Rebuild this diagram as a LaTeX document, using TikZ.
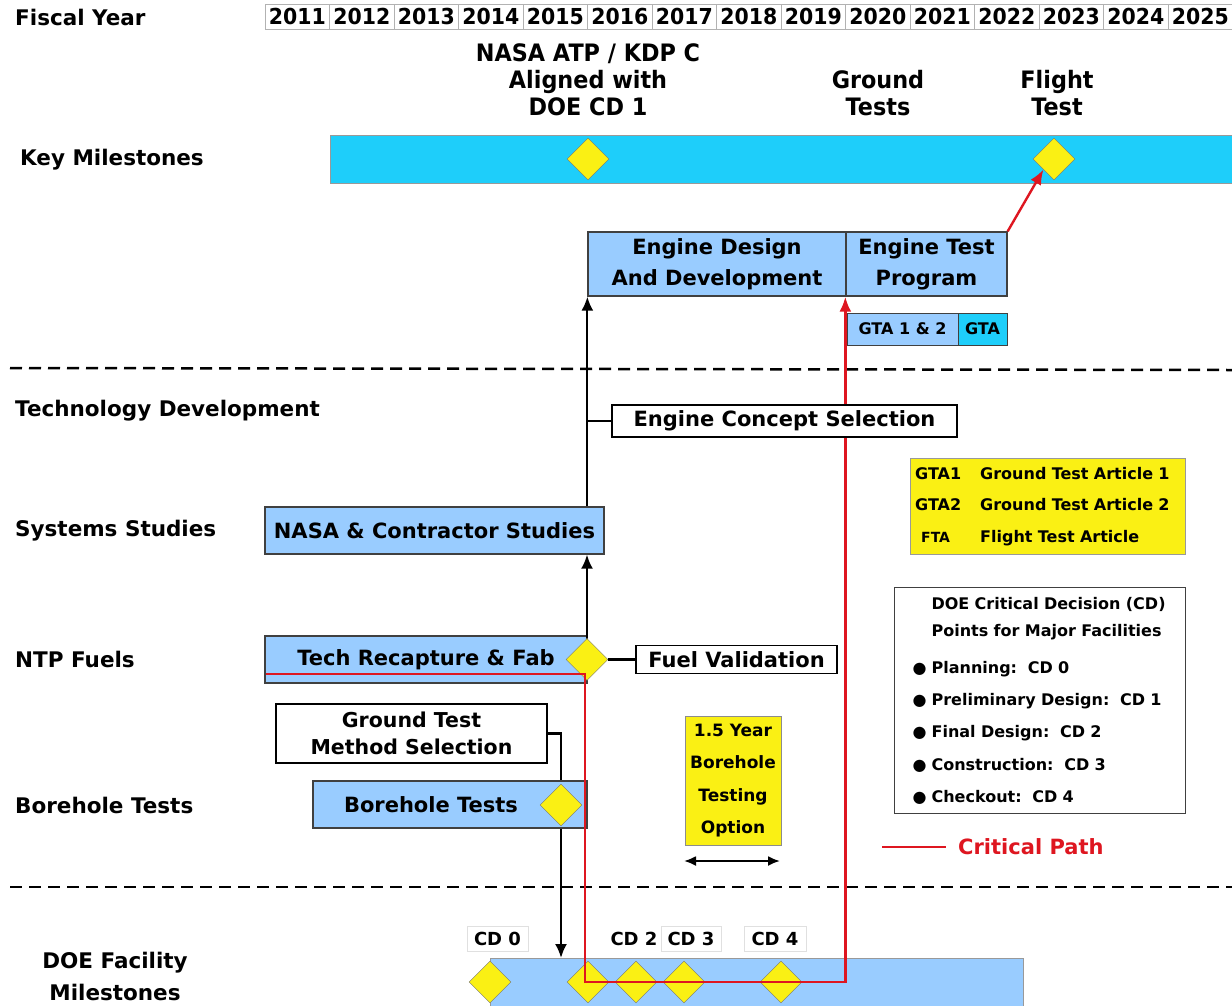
\documentclass[tikz,border=0pt]{standalone}
\usepackage{fontspec}
\setmainfont{DejaVu Sans}
\newfontfamily\narrowfont{DejaVu Sans}[FakeStretch=0.93]
\usetikzlibrary{calc, shapes, arrows, arrows.meta}
\definecolor{boxblue}{RGB}{153,204,255}
\definecolor{barcyan}{RGB}{30,206,250}
\definecolor{msyellow}{RGB}{250,240,20}
\definecolor{pathred}{RGB}{222,22,32}

\begin{document}
\begin{tikzpicture}[x=1pt,y=-1pt]
\tikzstyle{rowtext}=[anchor=west, inner sep=0pt, font=\bfseries\fontsize{21.5}{32}\selectfont]
\tikzstyle{yearcell}=[draw=black!30, minimum width=64.5pt, minimum height=25pt, inner sep=0pt, font=\narrowfont\bfseries\fontsize{22}{22}\selectfont]
\tikzstyle{mstext}=[align=center, inner sep=0pt, font=\narrowfont\bfseries\fontsize{24}{27}\selectfont]
\tikzstyle{bluebox}=[draw=black!75, fill=boxblue, line width=1.3pt, inner sep=0pt, align=center, font=\bfseries\fontsize{21}{31}\selectfont]
\tikzstyle{whitebox}=[draw=black, fill=white, line width=1.6pt, inner sep=0pt, align=center, font=\bfseries\fontsize{21}{27}\selectfont]
\tikzstyle{ms}=[diamond, draw=black!55, fill=msyellow, minimum width=42pt, minimum height=42pt, inner sep=0pt]
\tikzstyle{cdtag}=[draw=black!12, fill=white, minimum height=25pt, inner sep=0pt, font=\bfseries\fontsize{18}{18}\selectfont]
\tikzstyle{conn}=[line width=2.2pt]
\tikzstyle{arr}=[line width=2.2pt, -{Latex[length=14pt,width=12pt]}]
\tikzstyle{redpath}=[pathred, line width=2.8pt, -{Latex[length=15pt,width=12pt]}]
\tikzstyle{sep}=[line width=2.5pt, dash pattern=on 12pt off 7pt]
\useasboundingbox (0,0) rectangle (1232,1005);

% row titles
\node[rowtext] (L_fy) at (15,17) {Fiscal Year};
\node[rowtext] (L_km) at (20,160) {Key Milestones};
\node[rowtext] (L_td) at (15,411) {Technology Development};
\node[rowtext] (L_ss) at (15,531) {Systems Studies};
\node[rowtext] (L_nf) at (15,659) {NTP Fuels};
\node[rowtext] (L_bt) at (15,805) {Borehole Tests};
\node[rowtext, anchor=center, align=center] (L_doe) at (115,976) {DOE Facility\\Milestones};

% years
\foreach \i in {0,...,14} {
  \pgfmathtruncatemacro{\yr}{2011+\i}
  \node[yearcell] (Y_\i) at (297.25+64.5*\i,16.5) {\yr};
}

% key milestones
\node[draw=black!40, fill=barcyan, minimum width=910pt, minimum height=48pt, anchor=north west] (M_bar) at (330,135) {};
\node[ms] (M_1) at (588,159) {};
\node[ms] (M_2) at (1054,159) {};
\node[mstext] (T_1) at (588,80) {NASA ATP / KDP C\\Aligned with\\DOE CD 1};
\node[mstext] (T_2) at (878,93.5) {Ground\\Tests};
\node[mstext] (T_3) at (1057,93.5) {Flight\\Test};

% separators
\coordinate (S_1a) at (10,368);
\coordinate (S_1b) at (1232,370);
\coordinate (S_2a) at (10,887);
\coordinate (S_2b) at (1232,887);
\draw[sep] (S_1a) -- (S_1b);
\draw[sep] (S_2a) -- (S_2b);

% engine
\node[bluebox, minimum width=258pt, minimum height=64pt] (E_dev) at (717,264) {Engine Design\\And Development};
\node[bluebox, minimum width=161pt, minimum height=64pt] (E_test) at (926.5,264) {Engine Test\\Program};
\node[bluebox, line width=0.8pt, minimum width=111pt, minimum height=32pt, font=\bfseries\fontsize{16}{16}\selectfont] (G_12) at (902.5,329) {GTA 1 \& 2};
\node[bluebox, line width=0.8pt, fill=barcyan, minimum width=49pt, minimum height=32pt, font=\bfseries\fontsize{16}{16}\selectfont] (G_ta) at (982.5,329) {GTA};

% studies and fuels
\node[bluebox, minimum width=339pt, minimum height=47pt] (N_stu) at (434.5,530.5) {NASA \& Contractor Studies};
\node[bluebox, minimum width=322pt, minimum height=47pt] (T_fab) at (426,659.5) {Tech Recapture \& Fab};
\node[ms] (T_dia) at (587,659.5) {};
\node[whitebox, minimum width=201pt, minimum height=28pt] (F_val) at (736.5,659.5) {Fuel Validation};
\node[whitebox, minimum width=271pt, minimum height=59pt, font=\bfseries\fontsize{20.5}{27}\selectfont] (G_sel) at (411.5,733.5) {Ground Test\\Method Selection};
\node[bluebox, minimum width=274pt, minimum height=47pt] (B_tst) at (450,804.5) {Borehole Tests\hspace*{38pt}};
\node[ms] (B_dia) at (561,805) {};

% borehole option
\node[draw=black!45, fill=msyellow, minimum width=96pt, minimum height=129pt, inner sep=0pt, align=center, font=\bfseries\fontsize{17}{32.5}\selectfont] (Y_opt) at (733,780.5) {1.5 Year\\Borehole\\Testing\\Option};
\coordinate (A_l) at (684,861);
\coordinate (A_r) at (780,861);
\draw[line width=2pt, {Latex[length=12pt,width=10pt]}-{Latex[length=12pt,width=10pt]}] (A_l) -- (A_r);

% legends
\node[draw=black!40, fill=msyellow, anchor=north west, minimum width=275pt, minimum height=96pt, inner xsep=5pt, inner ysep=0pt, text width=265pt, align=left, font=\bfseries\fontsize{16}{31.5}\selectfont] (L_gta) at (910,458)
  {\makebox[65pt][l]{GTA1}Ground Test Article 1\\
   \makebox[65pt][l]{GTA2}Ground Test Article 2\\
   \makebox[65pt][l]{\hspace*{6pt}\fontsize{14}{14}\selectfont FTA}Flight Test Article};
\node[draw=black!75, line width=1.2pt, fill=white, anchor=north west, minimum width=291pt, minimum height=226pt, inner xsep=18pt, inner ysep=0pt, text width=255pt, align=left, font=\bfseries\fontsize{16}{32.3}\selectfont] (L_cd) at (894,587)
  {\hspace*{19pt}DOE Critical Decision (CD)\\[-5.3pt]
   \hspace*{19pt}Points for Major Facilities\\[4.7pt]
   \makebox[19pt][l]{●}Planning:~~CD 0\\
   \makebox[19pt][l]{●}Preliminary Design:~~CD 1\\
   \makebox[19pt][l]{●}Final Design:~~CD 2\\
   \makebox[19pt][l]{●}Construction:~~CD 3\\
   \makebox[19pt][l]{●}Checkout:~~CD 4};
\coordinate (C_a) at (882,847);
\coordinate (C_b) at (946,847);
\draw[pathred, line width=2.8pt] (C_a) -- (C_b);
\node[rowtext, font=\bfseries\fontsize{21}{21}\selectfont, text=pathred] (C_txt) at (958,847) {Critical Path};

% DOE facility milestones
\node[draw=black!40, fill=boxblue, minimum width=533pt, minimum height=52pt, anchor=north west] (D_bar) at (490,958) {};
\node[cdtag, minimum width=61pt] (CD_0) at (497.5,938.5) {CD 0};
\node[cdtag, draw=none, minimum width=48pt] (CD_2) at (634,938.5) {CD 2};
\node[cdtag, minimum width=60pt] (CD_3) at (691,938.5) {CD 3};
\node[cdtag, minimum width=62pt] (CD_4) at (775,938.5) {CD 4};
\node[ms] (D_0) at (490,982) {};
\node[ms] (D_1) at (588,982) {};
\node[ms] (D_2) at (636,982) {};
\node[ms] (D_3) at (684,982) {};
\node[ms] (D_4) at (781,982) {};

% flow
\draw[arr] (E_dev.south west |- N_stu.north) -- (E_dev.south west);
\draw[arr] (T_dia.north) -- (T_dia.north |- N_stu.south);
\draw[conn] (T_dia.east) -- (F_val.west);
\draw[conn] (G_sel.east) -| (B_dia.north |- B_tst.north);
\draw[arr] (B_dia.south |- B_tst.south) -- (B_dia.south |- D_bar.north);

% critical path
\coordinate (R_0) at (266,674);
\coordinate (R_1) at (585,982);
\draw[redpath] (R_0) -| (R_1) -| (E_test.south west);
\draw[redpath, line width=2.4pt] (E_test.north east) -- (M_2.south west);

\node[whitebox, minimum width=345pt, minimum height=32pt] (E_sel) at (784.5,421) {Engine Concept Selection};
\draw[conn] (E_sel.west) -- (E_dev.south west |- E_sel.west);
\end{tikzpicture}
\end{document}
